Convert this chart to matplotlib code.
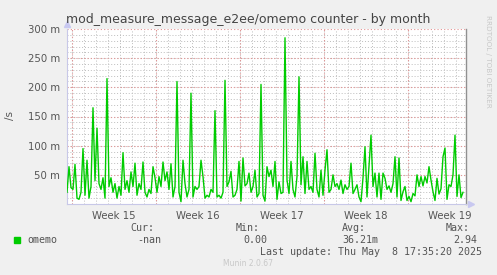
import matplotlib
matplotlib.use("Agg")
import matplotlib.pyplot as plt
import pandas as pd

# omemo counter, milli-messages per second, one sample every 4 hours
start = "2025-04-06 14:00"
step = "4h"
values = [20, 64, 28, 25, 68, 10, 8, 20, 95, 15, 75, 10, 30, 165, 40, 130,
          35, 25, 45, 10, 215, 30, 45, 20, 35, 10, 30, 15, 88, 25, 40, 20,
          55, 30,
          70, 15, 35, 25, 72, 20, 12, 25, 18, 64, 45, 20, 47, 30, 72, 40,
          55, 25, 69, 12, 30, 210, 20, 4, 75, 35, 12, 25, 190, 12, 30, 25,
          30, 75, 47, 10, 15, 12, 25, 20, 160, 12, 15, 10, 20, 212, 30, 38,
          56, 12, 15, 25, 73, 5, 79, 31, 35, 53, 20, 30, 58, 12, 18, 205,
          15, 5, 64, 47, 58, 30, 73, 8, 38, 18, 20, 285, 41, 18, 73, 25,
          12, 47, 218, 33, 81, 18, 73, 25, 30, 20, 87, 25, 12, 58, 15, 58,
          93, 20, 25, 50, 30, 35, 25, 41, 18, 33, 25, 30, 70, 18, 25, 33,
          12, 4, 45, 98, 12, 64, 118, 30, 53, 12, 53, 8, 53, 44, 25, 31,
          20, 35, 81, 12, 79, 6, 21, 30, 6, 13, 4, 18, 14, 50, 30, 47,
          31, 47, 36, 64, 41, 21, 6, 44, 17, 26, 81, 96, 8, 33, 30, 50,
          118, 13, 50, 11, 20]
week_starts = ["2025-04-07", "2025-04-14", "2025-04-21", "2025-04-28", "2025-05-05"]
week_labels = ["Week 15", "Week 16", "Week 17", "Week 18", "Week 19"]
y_ticks = [50, 100, 150, 200, 250, 300]
y_labels = ["50 m", "100 m", "150 m", "200 m", "250 m", "300 m"]
series_name = "omemo"
stats_head = ["Cur:", "Min:", "Avg:", "Max:"]
stats_vals = ["-nan", "0.00", "36.21m", "2.94"]

times = pd.date_range(start, periods=len(values), freq=step)
bg = "#f0f0f0"

fig = plt.figure(figsize=(4.97, 2.75), dpi=100, facecolor=bg)
ax = fig.add_axes([67 / 497, 1 - 204 / 275, 399 / 497, 175 / 275])
ax.set_facecolor("white")

xmin = pd.Timestamp("2025-04-06 14:00")
xmax = pd.Timestamp("2025-05-09 20:00")
ax.set_xlim(xmin, xmax)
ax.set_ylim(0, 300)

# grid: minor grey dotted, major red dotted
for d in pd.date_range("2025-04-07", "2025-05-09", freq="D"):
    ax.axvline(d, color="#bdbdbd", ls=(0, (1, 2)), lw=0.7, zorder=0)
for y in range(10, 300, 10):
    ax.axhline(y, color="#bdbdbd", ls=(0, (1, 2)), lw=0.7, zorder=0)
for d in week_starts:
    ax.axvline(pd.Timestamp(d), color="#e39393", ls=(0, (1, 2)), lw=0.8, zorder=0)
for y in y_ticks:
    ax.axhline(y, color="#e39393", ls=(0, (1, 2)), lw=0.8, zorder=0)

ax.plot(times, values, color="#00cc00", lw=1.0, zorder=3)

mid = [pd.Timestamp(d) + pd.Timedelta(hours=84) for d in week_starts]
ax.set_xticks(mid)
ax.set_xticklabels(week_labels)
ax.set_yticks(y_ticks)
ax.set_yticklabels(y_labels)
ax.tick_params(length=0, labelsize=7.3, colors="#555555", pad=5)

ax.spines["top"].set_visible(False)
ax.spines["left"].set_color("#c8c8e8")
ax.spines["bottom"].set_color("#c8c8e8")
ax.spines["right"].set_color("#909090")
ax.spines["right"].set_linewidth(1.0)

# axis arrows
ax.plot([0], [1.03], marker="^", ms=4, color="#c8c8f0", transform=ax.transAxes, clip_on=False)
ax.plot([1.012], [0], marker=">", ms=4, color="#c8c8f0", transform=ax.transAxes, clip_on=False)

fig.text(10 / 497, 1 - 115 / 275, "/s", rotation=90, ha="center", va="center",
         fontsize=7.5, color="#555555")
fig.text(248 / 497, 1 - 19 / 275, "mod_measure_message_e2ee/omemo counter - by month",
         ha="center", va="center", fontsize=9.0, color="#444444")
fig.text(488 / 497, 1 - 15 / 275, "RRDTOOL / TOBI OETIKER", rotation=270,
         ha="center", va="top", fontsize=5.2, color="#c8c8c8")

mono = "DejaVu Sans Mono"
fig.patches.append(plt.Rectangle((14 / 497, 1 - 243 / 275), 6 / 497, 6 / 275,
                                 transform=fig.transFigure, color="#00cc00"))
fig.text(27 / 497, 1 - 240 / 275, series_name, family=mono, fontsize=7.2,
         color="#555555", va="center")
head_x = [154, 260, 366, 470]
val_x = [161, 267, 378, 477]
for hx, h in zip(head_x, stats_head):
    fig.text(hx / 497, 1 - 228 / 275, h, family=mono, fontsize=7.2,
             color="#555555", ha="right", va="center")
for vx, v in zip(val_x, stats_vals):
    fig.text(vx / 497, 1 - 240 / 275, v, family=mono, fontsize=7.2,
             color="#555555", ha="right", va="center")
fig.text(482 / 497, 1 - 252 / 275, "Last update: Thu May  8 17:35:20 2025",
         family=mono, fontsize=7.2, color="#555555", ha="right", va="center")
fig.text(248 / 497, 1 - 264 / 275, "Munin 2.0.67", fontsize=5.5,
         color="#c8c8c8", ha="center", va="center")

fig.savefig("out.png", dpi=100, facecolor=bg)
